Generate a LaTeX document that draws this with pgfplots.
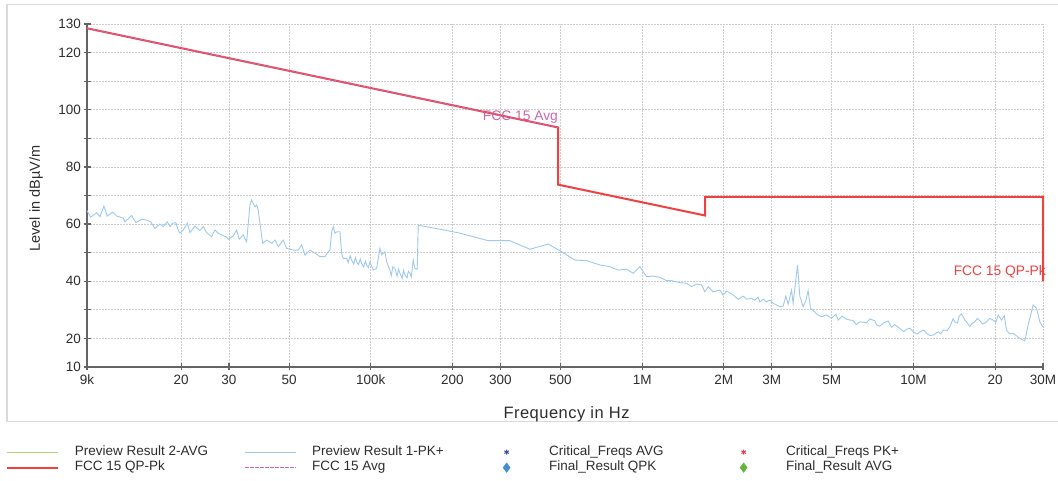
\documentclass[border=0pt]{standalone}
\usepackage{fontspec}
\setmainfont{Liberation Sans}
\newfontfamily\xlabfont[LetterSpace=3]{Liberation Sans}
\usepackage{pgfplots}
\pgfplotsset{compat=1.18}
\definecolor{tracec}{RGB}{158,200,238}
\definecolor{limred}{RGB}{240,64,64}
\definecolor{limmag}{RGB}{204,102,170}
\definecolor{avggreen}{RGB}{180,210,120}
\definecolor{stardb}{RGB}{60,80,160}
\definecolor{starred}{RGB}{235,60,70}
\definecolor{diablue}{RGB}{70,140,210}
\definecolor{diagreen}{RGB}{100,180,60}
\definecolor{gridgray}{RGB}{205,205,205}
\definecolor{axisgray}{RGB}{100,100,100}
\definecolor{framegray}{RGB}{218,218,218}
\definecolor{txt}{RGB}{45,45,45}
\pgfplotsset{
  lineleg/.style={legend image code/.code={\draw[##1] (0pt,0pt) -- (51pt,0pt);}},
  magleg/.style={legend image code/.code={%
    \path (0pt,0pt) (51pt,0pt);
    \foreach \s in {0,5,10,15,20,25,30,35,40,45}{%
      \fill[fill={rgb,255:red,204;green,102;blue,170}, draw=none] (\s pt,-0.8pt) rectangle ++(3pt,1.6pt);
      \fill[fill={rgb,255:red,204;green,102;blue,170}, draw=none] (\s pt+3.8pt,-0.8pt) rectangle ++(0.9pt,1.6pt);}
    \fill[fill={rgb,255:red,204;green,102;blue,170}, draw=none] (50pt,-0.8pt) rectangle (51pt,0.8pt);}},
  starleg/.style={legend image code/.code={\path (0pt,0pt) (51pt,0pt); \draw[##1] plot[only marks, mark=asterisk, mark size=2.6pt] coordinates {(25pt,0pt)};}},
  dialeg/.style={legend image code/.code={\path (0pt,0pt) (51pt,0pt); \draw[##1] plot[only marks, mark=diamond*, mark size=4.8pt] coordinates {(25pt,0pt)};}},
}
\begin{document}
\begin{tikzpicture}
\useasboundingbox (-87pt,-114pt) rectangle (971pt,367pt);
\draw[framegray, line width=1.5pt] (990pt,362.5pt) -- (-80pt,362.5pt) -- (-80pt,-54.5pt) -- (990pt,-54.5pt);
\begin{axis}[
  scale only axis, width=956pt, height=343pt,
  xmode=log, xmin=9000, xmax=30000000, ymin=10, ymax=130,
  axis lines*=left,
  axis line style={axisgray, line width=1.5pt},
  clip=false,
  xminorticks=false, yminorticks=false,
  xtick={9000,20000,30000,50000,100000,200000,300000,500000,1000000,2000000,3000000,5000000,10000000,20000000,30000000},
  xticklabels={9k,20,30,50,100k,200,300,500,1M,2M,3M,5M,10M,20,30M},
  ytick={10,20,30,40,50,60,70,80,90,100,110,120,130},
  yticklabels={10,20,{},40,{},60,{},80,{},100,{},120,130},
  grid=major,
  major grid style={gridgray, line width=0.8pt, dash pattern=on 1.5pt off 1.5pt},
  tick align=center, major tick length=7pt,
  major tick style={axisgray, line width=1.2pt},
  ticklabel style={font=\fontsize{13.5}{16}\selectfont, text=txt},
  yticklabel style={xshift=1pt},
  xticklabel style={yshift=-1pt},
  xlabel={\xlabfont Frequency in Hz},
  xlabel style={at={(axis description cs:0.5016,-0.137)}, anchor=center, font=\fontsize{16.5}{19}\selectfont, text=txt},
  ylabel={Level in dBµV/m},
  ylabel style={at={(axis description cs:-0.0533,0.491)}, anchor=center, font=\fontsize{14.5}{17}\selectfont, text=txt},
  legend columns=4,
  legend cell align=left,
  legend style={at={(axis description cs:-0.085,-0.2300)}, anchor=north west,
    draw=none, fill=none, inner sep=0pt, outer sep=0pt,
    column sep=0pt, row sep=3pt,
    nodes={inner sep=0pt, text height=9.5pt, text depth=3pt},
    /tikz/every odd column/.append style={column sep=16pt},
    font=\fontsize{13.5}{16}\selectfont, text=txt},
]
% legend images
\addlegendimage{avggreen, line width=1.2pt, lineleg}
\addlegendentry{\makebox[169pt][l]{Preview Result 2-AVG}}
\addlegendimage{tracec, line width=1.2pt, lineleg}
\addlegendentry{\makebox[169pt][l]{Preview Result 1-PK+}}
\addlegendimage{stardb, line width=1pt, starleg}
\addlegendentry{\makebox[169pt][l]{Critical\_Freqs AVG}}
\addlegendimage{starred, line width=1pt, starleg}
\addlegendentry{Critical\_Freqs PK+}
\addlegendimage{limred, line width=2.2pt, lineleg}
\addlegendentry{\makebox[169pt][l]{FCC 15 QP-Pk}}
\addlegendimage{limmag, magleg}
\addlegendentry{\makebox[169pt][l]{FCC 15 Avg}}
\addlegendimage{diablue, dialeg}
\addlegendentry{\makebox[169pt][l]{Final\_Result QPK}}
\addlegendimage{diagreen, dialeg}
\addlegendentry{Final\_Result AVG}

% measured trace
\addplot[tracec, line width=0.9pt, forget plot] coordinates {
(9000,64.7) (9285,62.4) (9766,64.0) (10044,62.6) (10390,66.3) (10685,62.8) (11186,64.2) (11572,62.8)
(12240,62.1) (12417,60.8) (13144,63.0) (13630,60.5) (14305,61.7) (14928,61.4) (15440,60.8) (16016,58.5)
(16711,60.0) (17184,59.1) (17778,60.8) (18188,59.1) (18611,60.3) (19138,60.5) (19515,57.9) (19800,56.8)
(20363,57.9) (21068,60.3) (21554,57.0) (22487,59.3) (23465,57.7) (24128,59.1) (24837,57.0) (25912,55.6)
(26646,57.9) (27404,56.8) (28206,56.2) (29428,55.4) (29830,54.7) (31127,55.8) (32036,57.9) (32752,54.7)
(33880,56.2) (34869,53.8) (35861,66.7) (36386,68.4) (37417,66.0) (37964,66.7) (38483,64.9) (39038,60.3)
(39946,53.3) (41321,54.4) (43111,53.3) (44339,54.4) (45601,52.1) (47577,54.4) (48967,51.5) (51781,50.9)
(54025,50.9) (55614,52.7) (57186,49.2) (59675,50.9) (62261,49.8) (64960,48.6) (67775,48.6) (69704,50.3)
(70724,50.9) (71744,57.3) (72725,59.1) (73789,56.8) (74852,57.3) (76984,57.3) (78106,49.8) (79176,48.0)
(81486,48.0) (82500,46.5) (84000,48.9) (84999,47.4) (86500,46.0) (87800,48.3) (88678,46.8) (90000,45.8)
(91500,47.8) (92518,46.2) (94000,45.0) (95500,47.0) (96515,45.7) (98000,44.8) (99260,46.8) (102070,43.9)
(105050,44.5) (108040,51.5) (109600,49.2) (112720,50.3) (114370,46.8) (117600,43.9) (119000,42.0) (120500,45.0)
(122710,44.5) (125000,41.8) (126500,44.2) (128030,42.8) (130500,41.0) (132000,43.8) (133580,42.2) (136000,41.2)
(137500,43.5) (139370,42.8) (141000,41.5) (143330,47.4) (145400,44.5) (148270,44.2) (149540,59.6) (164130,58.9)
(201200,57.3) (213000,56.8) (270700,54.2) (325500,54.2) (385800,51.2) (450500,53.0) (497500,50.7) (565100,47.4)
(624200,47.2) (698700,45.7) (760300,45.1) (815700,43.9) (876100,44.2) (926800,42.8) (981100,45.1) (1038300,41.6)
(1098000,41.8) (1162300,41.4) (1230000,40.2) (1283500,40.2) (1377200,39.5) (1457700,39.3) (1520800,38.1) (1586600,39.0)
(1655300,38.7) (1702400,36.3) (1750900,38.1) (1826700,36.3) (1933700,36.9) (1988300,35.2) (2046400,36.6) (2164600,35.2)
(2258300,33.7) (2356100,34.8) (2424900,33.7) (2530000,34.0) (2602100,33.4) (2675700,34.4) (2714800,32.8) (2792200,33.7)
(2873700,32.8) (2955400,33.4) (3038900,32.3) (3216700,31.1) (3307600,31.3) (3384600,34.8) (3450700,32.0) (3551400,36.9)
(3600000,32.3) (3737000,45.7) (3811000,34.8) (3918000,31.1) (4010000,33.2) (4089000,36.7) (4173000,30.5) (4328000,29.3)
(4390000,28.5) (4582000,27.6) (4781000,28.2) (4988000,27.0) (5174000,28.5) (5277000,26.4) (5450000,27.8) (5666000,26.7)
(5991000,26.2) (6150000,24.8) (6342000,25.8) (6713000,25.5) (6900000,26.8) (7202000,26.2) (7306000,24.7) (7500000,24.3)
(7727000,25.3) (8063000,26.1) (8299000,23.9) (8500000,24.8) (8903000,23.5) (9200000,22.4) (9426000,23.2) (9700000,23.6)
(9968000,22.3) (10300000,21.5) (10550000,22.3) (10900000,22.9) (11170000,21.8) (11500000,21.0) (11810000,21.2) (12320000,22.3)
(12600000,21.6) (12860000,22.9) (13300000,22.8) (13610000,24.1) (14000000,26.9) (14200000,25.8) (14500000,25.4) (14730000,27.8)
(15000000,28.6) (15230000,27.6) (15500000,26.3) (15680000,25.8) (16120000,24.1) (16400000,25.2) (16820000,25.8) (17200000,27.0)
(17550000,26.2) (18000000,25.0) (18580000,25.8) (19100000,27.0) (19650000,26.4) (20100000,25.6) (20500000,28.2) (21100000,26.4)
(21600000,27.9) (22010000,22.9) (22600000,21.6) (23280000,21.8) (24640000,20.0) (25710000,19.2) (26440000,24.7) (27590000,31.7)
(28400000,30.5) (29200000,25.8) (30000000,23.9)
};

% labels
\node[anchor=east, text=limmag, font=\fontsize{13.8}{16}\selectfont, inner sep=0pt] at (axis cs:490000,97.4) {FCC 15 Avg};
\node[anchor=east, text=limred, font=\fontsize{13.8}{16}\selectfont, inner sep=0pt] at (axis cs:30000000,43.3) [xshift=3pt] {FCC 15 QP-Pk};

% limit lines
\addplot[limred, line width=2pt, forget plot] coordinates {
(9000,128.5) (490000,93.8) (490000,73.8) (1705000,63.0) (1705000,69.5) (30000000,69.5) (30000000,40.0)
};
\addplot[limmag, line width=1.2pt, dash pattern=on 3pt off 1pt on 1pt off 1pt, forget plot] coordinates {
(9000,128.5) (490000,93.8)
};
\end{axis}
\end{tikzpicture}
\end{document}
